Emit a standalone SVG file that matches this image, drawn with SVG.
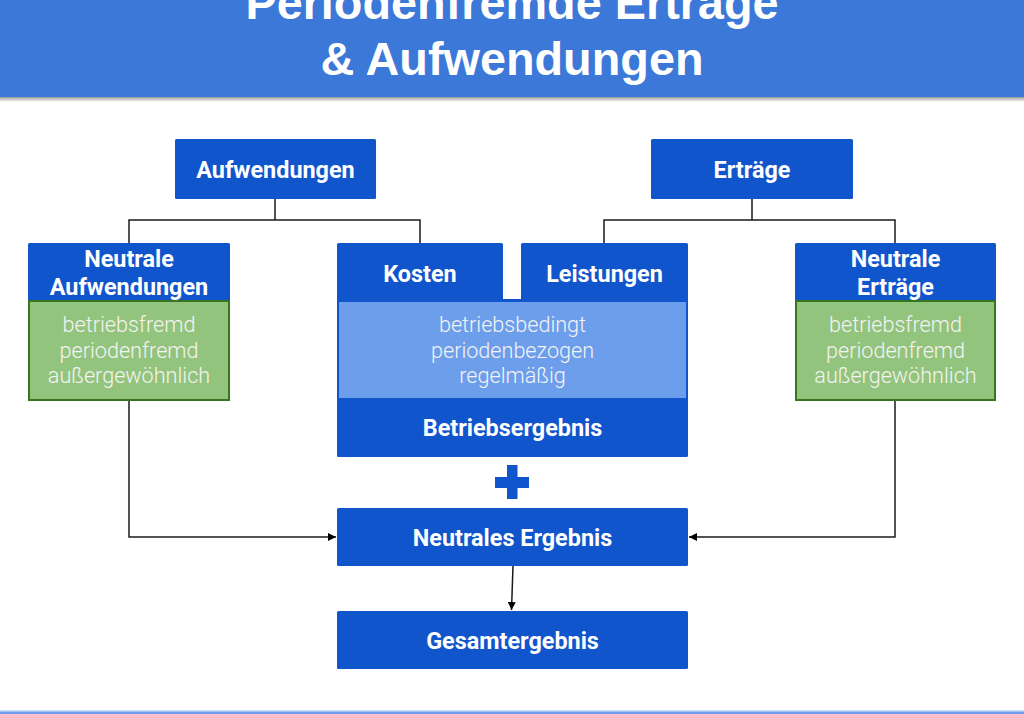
<svg xmlns="http://www.w3.org/2000/svg" width="1024" height="714" viewBox="0 0 1024 714">
<defs>
<style>
.node{fill:#1155cc;}
.t{font-family:Roboto,"Liberation Sans",sans-serif;font-weight:700;font-size:23.4px;fill:#ffffff;text-anchor:middle;}
.lt{font-family:Roboto,"Liberation Sans",sans-serif;font-weight:300;font-size:21.6px;fill:#f3f3f3;text-anchor:middle;}
.green{fill:#93c47d;stroke:#38761d;stroke-width:2;}
.conn{fill:none;stroke:#1a1a1a;stroke-width:1.5;}
.title{font-family:"Liberation Sans",Arial,sans-serif;font-weight:700;font-size:46.8px;fill:#ffffff;text-anchor:middle;}
</style>
<linearGradient id="shadow" x1="0" y1="0" x2="0" y2="1">
<stop offset="0" stop-color="#9a9a9a"/>
<stop offset="1" stop-color="#ffffff"/>
</linearGradient>
<marker id="arr" viewBox="0 0 10 10" refX="10" refY="5" markerWidth="8" markerHeight="8" markerUnits="userSpaceOnUse" orient="auto">
<path d="M0,0 L10,5 L0,10 Z" fill="#000"/>
</marker>
</defs>
<rect x="0" y="0" width="1024" height="714" fill="#ffffff"/>
<g id="header">
<rect x="0" y="0" width="1024" height="97" fill="#3c78d8"/>
<rect x="0" y="97" width="1024" height="5" fill="url(#shadow)"/>
<text class="title" x="512" y="19">Periodenfremde Erträge</text>
<text class="title" x="512" y="75">&amp; Aufwendungen</text>
</g>
<g id="connectors">
<path class="conn" d="M275,199 V220 M129,220 H420 M129,219.25 V243 M420,219.25 V243"/>
<path class="conn" d="M752,199 V220 M604,220 H895 M604,219.25 V243 M895,219.25 V243"/>
<path class="conn" d="M129,401 V537 H336" marker-end="url(#arr)"/>
<path class="conn" d="M895,401 V537 H689" marker-end="url(#arr)"/>
<path class="conn" d="M513,566 L511.5,610" marker-end="url(#arr)"/>
</g>
<g id="aufwendungen">
<rect class="node" x="175" y="139" width="201" height="60" rx="1.5"/>
<text class="t" x="275.5" y="178">Aufwendungen</text>
</g>
<g id="ertraege">
<rect class="node" x="651" y="139" width="202" height="60" rx="1.5"/>
<text class="t" x="752" y="178">Erträge</text>
</g>
<g id="neutrale-aufwendungen">
<rect class="node" x="28" y="243" width="202" height="58" rx="1.5"/>
<text class="t" x="129" y="267">Neutrale</text>
<text class="t" x="129" y="295">Aufwendungen</text>
<rect class="green" x="29" y="301" width="200" height="99"/>
<text class="lt" x="129" y="332">betriebsfremd</text>
<text class="lt" x="129" y="358">periodenfremd</text>
<text class="lt" x="129" y="383">außergewöhnlich</text>
</g>
<g id="neutrale-ertraege">
<rect class="node" x="795" y="243" width="201" height="58" rx="1.5"/>
<text class="t" x="895.5" y="267">Neutrale</text>
<text class="t" x="895.5" y="295">Erträge</text>
<rect class="green" x="796" y="301" width="199" height="99"/>
<text class="lt" x="895.5" y="332">betriebsfremd</text>
<text class="lt" x="895.5" y="358">periodenfremd</text>
<text class="lt" x="895.5" y="383">außergewöhnlich</text>
</g>
<g id="kosten">
<rect class="node" x="337" y="243" width="166" height="58" rx="1.5"/>
<text class="t" x="420" y="282">Kosten</text>
</g>
<g id="leistungen">
<rect class="node" x="521" y="243" width="167" height="58" rx="1.5"/>
<text class="t" x="604.5" y="282">Leistungen</text>
</g>
<g id="betriebsergebnis">
<rect class="node" x="337" y="299" width="351" height="158" rx="1.5"/>
<rect x="339" y="302" width="347" height="96" fill="#6d9eeb"/>
<text class="lt" x="512.5" y="332">betriebsbedingt</text>
<text class="lt" x="512.5" y="358">periodenbezogen</text>
<text class="lt" x="512.5" y="383">regelmäßig</text>
<text class="t" x="512.5" y="436">Betriebsergebnis</text>
</g>
<g id="plus">
<rect class="node" x="507" y="465" width="10.5" height="34"/>
<rect class="node" x="495" y="477" width="34" height="11"/>
</g>
<g id="neutrales-ergebnis">
<rect class="node" x="337" y="508" width="351" height="58" rx="1.5"/>
<text class="t" x="512.5" y="546">Neutrales Ergebnis</text>
</g>
<g id="gesamtergebnis">
<rect class="node" x="337" y="611" width="351" height="58" rx="1.5"/>
<text class="t" x="512.5" y="649">Gesamtergebnis</text>
</g>
<g id="footer">
<rect x="0" y="710" width="1024" height="1.5" fill="#c9daf8"/>
<rect x="0" y="711.5" width="1024" height="2.5" fill="#6d9eeb"/>
</g>
</svg>
